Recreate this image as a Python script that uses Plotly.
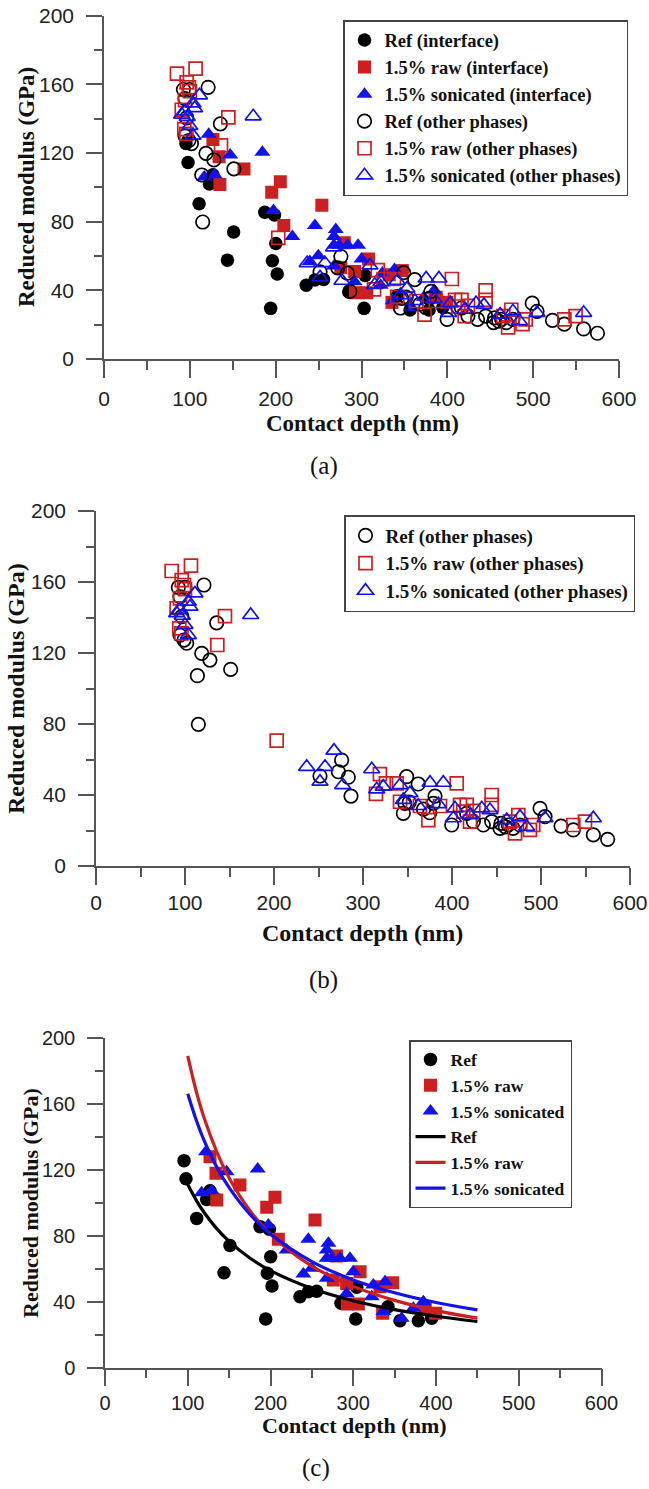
import plotly.graph_objects as go

W, H = 649, 1489

# ---------------- data ----------------
# interface data (filled markers) -- panels (a) and (c)
ref_int_x = [95.5, 97.9, 110.8, 122.9, 126.9, 151.0, 143.8, 187.3, 198.6, 200.2, 196.2, 201.8, 194.2,
             235.6, 245.7, 255.8, 285.2, 303.0, 304.2, 342.0, 356.5, 378.7, 394.8]
ref_int_y = [125.5, 114.5, 90.5, 102.0, 107.3, 74.0, 57.6, 85.5, 83.9, 67.3, 57.2, 49.5, 29.5,
             43.0, 46.0, 46.3, 39.0, 29.5, 48.7, 37.0, 28.5, 28.5, 30.0]

raw_int_x = [126.9, 134.1, 135.0, 163.1, 195.4, 205.4, 209.5, 253.8, 280.0, 275.9, 292.0, 308.2,
             292.9, 306.2, 332.3, 347.6, 335.5, 387.0, 399.6]
raw_int_y = [127.9, 117.8, 101.6, 110.7, 97.2, 103.3, 77.8, 89.5, 67.7, 53.2, 51.0, 58.2,
             38.6, 38.6, 49.1, 51.5, 33.0, 36.0, 33.0]

son_int_x = [122.0, 116.8, 128.9, 147.0, 184.5, 197.4, 219.5, 245.7, 239.7, 249.7, 270.0, 268.0,
             268.0, 274.0, 284.0, 296.0, 268.0, 300.0, 292.0, 324.3, 338.4, 322.3, 336.3, 358.5,
             384.7, 372.6]
son_int_y = [130.9, 106.0, 107.3, 118.8, 120.4, 86.5, 71.3, 77.8, 56.8, 60.2, 75.4, 71.3,
             66.3, 66.3, 66.3, 66.3, 54.2, 58.2, 45.0, 50.1, 52.1, 43.0, 34.0, 29.9,
             40.0, 36.0]

# other phases (open markers) -- panels (a) and (b)
ref_oth_x = [92.5, 100.0, 121.3, 98.9, 101.9, 135.6, 118.8, 128.0, 151.3, 113.9, 115.0, 94.4, 96.3,
             94.4, 251.7, 276.0, 272.3, 283.5, 286.5, 349.0, 362.0, 345.3, 347.0, 352.0, 368.0,
             375.0, 380.9, 379.0, 399.7, 416.5, 424.0, 435.2, 444.6, 453.9, 455.0, 460.0, 463.3,
             468.6, 476.4, 498.9, 504.5, 522.5, 536.3, 558.8, 574.9]
ref_oth_y = [157.0, 157.0, 158.3, 127.3, 125.5, 137.0, 119.8, 116.0, 110.8, 107.2, 79.8, 151.7, 140.5,
             130.0, 50.7, 59.7, 53.1, 50.0, 39.4, 50.3, 46.2, 29.7, 35.3, 36.0, 32.0,
             30.0, 39.4, 35.3, 23.1, 29.7, 25.0, 23.1, 25.0, 21.2, 24.0, 22.0, 23.1,
             21.2, 23.1, 32.5, 27.8, 22.5, 20.3, 17.5, 15.0]

raw_oth_x = [85.0, 106.7, 96.3, 98.9, 100.0, 90.6, 94.4, 93.6, 96.0, 144.9, 136.3, 203.0, 314.6,
             319.0, 325.8, 337.9, 341.6, 364.0, 373.4, 386.5, 405.3, 409.0, 416.5, 412.7, 424.0,
             420.2, 444.6, 444.6, 465.2, 470.8, 474.5, 487.6, 491.3, 536.3, 549.4]
raw_oth_y = [166.2, 169.2, 161.1, 158.3, 156.0, 145.2, 150.8, 133.9, 131.1, 140.8, 124.5, 70.6, 40.6,
             51.8, 46.6, 46.6, 36.2, 33.8, 25.9, 33.8, 46.6, 34.4, 34.4, 30.6, 31.0,
             25.0, 40.0, 34.4, 25.0, 18.4, 28.7, 20.3, 23.1, 23.1, 25.0]

son_oth_x = [111.2, 103.7, 105.6, 94.4, 90.6, 97.0, 100.0, 103.7, 173.8, 236.7, 251.7, 257.3, 267.4,
             277.2, 309.8, 315.4, 322.8, 341.6, 345.3, 352.8, 375.3, 390.2, 362.2, 384.6, 401.5,
             403.4, 420.2, 433.4, 442.7, 461.5, 476.4, 483.9, 504.5, 558.8]
son_oth_y = [153.6, 148.9, 146.1, 144.2, 142.4, 141.0, 135.8, 130.1, 141.4, 55.9, 47.5, 55.9, 65.0,
             45.6, 54.5, 43.2, 44.7, 45.6, 37.2, 41.0, 46.9, 46.9, 33.8, 34.9, 26.9,
             32.5, 28.7, 32.5, 31.5, 25.9, 27.8, 22.1, 26.9, 26.9]

# fitted curves of panel (c)
fit_x = [100, 110, 120, 135, 150, 175, 200, 250, 300, 350, 400, 450]
fit_ref_y = [111.0, 101.7, 93.9, 84.3, 76.6, 66.5, 58.8, 48.0, 40.6, 35.2, 31.2, 28.0]
fit_raw_y = [189.0, 168.0, 151.0, 131.0, 115.0, 95.3, 80.9, 61.6, 49.3, 40.8, 34.6, 30.0]
fit_son_y = [166.0, 150.4, 137.4, 121.6, 109.1, 93.0, 81.0, 64.3, 53.2, 45.4, 39.5, 35.0]

x_ticks = [0, 100, 200, 300, 400, 500, 600]
y_ticks = [0, 40, 80, 120, 160, 200]

# ---------------- styles ----------------
BLACK = "#000000"
RED = "#cc1f1f"
BLUE = "#1212ee"
AX = "#555555"

def px_x(p):
    return p / W

def px_y(p):
    return 1 - p / H

fig = go.Figure()

SZ_C, SZ_S, SZ_T = 13.5, 13, 14

def filled(x, y, name, sym, color, size, xa, ya, leg):
    fig.add_trace(go.Scatter(x=x, y=y, mode="markers", name=name, xaxis=xa, yaxis=ya, legend=leg,
                             marker=dict(symbol=sym, color=color, size=size, line=dict(width=0))))

def opened(x, y, name, sym, color, size, xa, ya, leg):
    fig.add_trace(go.Scatter(x=x, y=y, mode="markers", name=name, xaxis=xa, yaxis=ya, legend=leg,
                             marker=dict(symbol=sym + "-open", color=color, size=size,
                                         line=dict(width=1.7, color=color))))

# panel (a)
filled(ref_int_x, ref_int_y, "Ref (interface)", "circle", BLACK, SZ_C, "x", "y", "legend")
filled(raw_int_x, raw_int_y, "1.5% raw (interface)", "square", RED, SZ_S, "x", "y", "legend")
filled(son_int_x, son_int_y, "1.5% sonicated (interface)", "triangle-up", BLUE, SZ_T, "x", "y", "legend")
opened(ref_oth_x, ref_oth_y, "Ref (other phases)", "circle", BLACK, SZ_C, "x", "y", "legend")
opened(raw_oth_x, raw_oth_y, "1.5% raw (other phases)", "square", RED, SZ_S, "x", "y", "legend")
opened(son_oth_x, son_oth_y, "1.5% sonicated (other phases)", "triangle-up", BLUE, SZ_T, "x", "y", "legend")

# panel (b)
opened(ref_oth_x, ref_oth_y, "Ref (other phases)", "circle", BLACK, SZ_C, "x2", "y2", "legend2")
opened(raw_oth_x, raw_oth_y, "1.5% raw (other phases)", "square", RED, SZ_S, "x2", "y2", "legend2")
opened(son_oth_x, son_oth_y, "1.5% sonicated (other phases)", "triangle-up", BLUE, SZ_T, "x2", "y2", "legend2")

# panel (c)
filled(ref_int_x, ref_int_y, "Ref", "circle", BLACK, SZ_C, "x3", "y3", "legend3")
filled(raw_int_x, raw_int_y, "1.5% raw", "square", RED, SZ_S, "x3", "y3", "legend3")
filled(son_int_x, son_int_y, "1.5% sonicated", "triangle-up", BLUE, SZ_T, "x3", "y3", "legend3")
for yy, col, nm in [(fit_ref_y, BLACK, "Ref"), (fit_raw_y, RED, "1.5% raw"), (fit_son_y, BLUE, "1.5% sonicated")]:
    fig.add_trace(go.Scatter(x=fit_x, y=yy, mode="lines", name=nm, xaxis="x3", yaxis="y3",
                             legend="legend3", line=dict(color=col, width=3.2, shape="spline")))

def xaxis(dom, ydom_anchor, fsize, standoff):
    return dict(domain=dom, anchor=ydom_anchor, range=[0, 600], tickvals=x_ticks,
                showline=True, linecolor=AX, linewidth=1.5, ticks="outside", ticklen=17,
                tickwidth=1.5, tickcolor=AX, ticklabelstandoff=standoff,
                minor=dict(dtick=50, tick0=0, ticklen=9, tickwidth=1.5, tickcolor=AX, ticks="outside"),
                showgrid=False, zeroline=False, automargin=False,
                tickfont=dict(family="Liberation Sans, Arial", size=fsize, color="#222"))

def yaxis(dom, xanchor, fsize):
    return dict(domain=dom, anchor=xanchor, range=[0, 200], tickvals=y_ticks,
                showline=True, linecolor=AX, linewidth=1.5, ticks="outside", ticklen=16,
                tickwidth=1.5, tickcolor=AX, ticklabelstandoff=8,
                minor=dict(dtick=20, tick0=0, ticklen=8, tickwidth=1.5, tickcolor=AX, ticks="outside"),
                showgrid=False, zeroline=False, automargin=False,
                tickfont=dict(family="Liberation Sans, Arial", size=fsize, color="#222"))

def legend(x, y, fsize):
    return dict(x=px_x(x), y=px_y(y), xanchor="left", yanchor="top", bgcolor="white",
                bordercolor="#444", borderwidth=1.5, traceorder="normal",
                font=dict(family="Liberation Serif, Times New Roman", size=fsize, color="#111", weight="bold"))

SERIF = "Liberation Serif, Times New Roman"
ann = []
def add_text(x, y, text, size, bold=True, angle=0):
    ann.append(dict(x=px_x(x), y=px_y(y), xref="paper", yref="paper", text=text, showarrow=False,
                    xanchor="center", yanchor="middle", textangle=angle,
                    font=dict(family=SERIF, size=size, color="#111", weight="bold" if bold else "normal")))

add_text(27, 187, "Reduced modulus (GPa)", 23, angle=-90)
add_text(363, 423, "Contact depth (nm)", 23)
add_text(324, 466, "(a)", 25, bold=False)
add_text(16, 689, "Reduced modulus (GPa)", 24, angle=-90)
add_text(362, 933, "Contact depth (nm)", 24)
add_text(323, 980, "(b)", 25, bold=False)
add_text(30, 1203, "Reduced modulus (GPa)", 22, angle=-90)
add_text(354, 1425, "Contact depth (nm)", 22)
add_text(316, 1468, "(c)", 25, bold=False)

fig.update_layout(
    width=W, height=H, margin=dict(l=0, r=0, t=0, b=0, autoexpand=False),
    paper_bgcolor="white", plot_bgcolor="white",
    xaxis=xaxis([px_x(104), px_x(619)], "y", 21, 3),
    yaxis=yaxis([px_y(359), px_y(15.7)], "x", 21),
    xaxis2=xaxis([px_x(96), px_x(630)], "y2", 21, 0),
    yaxis2=yaxis([px_y(866), px_y(511)], "x2", 21),
    xaxis3=xaxis([px_x(105), px_x(601.5)], "y3", 20, 0),
    yaxis3=yaxis([px_y(1367.7), px_y(1037.7)], "x3", 20),
    legend=legend(343, 20, 18.5),
    legend2=legend(344, 515, 19),
    legend3=legend(409, 1040, 17.5),
    annotations=ann,
    showlegend=True,
)

fig.write_html("out.html", config={"displayModeBar": False},
               post_script="document.body.style.margin='0';document.body.style.overflow='hidden';")
